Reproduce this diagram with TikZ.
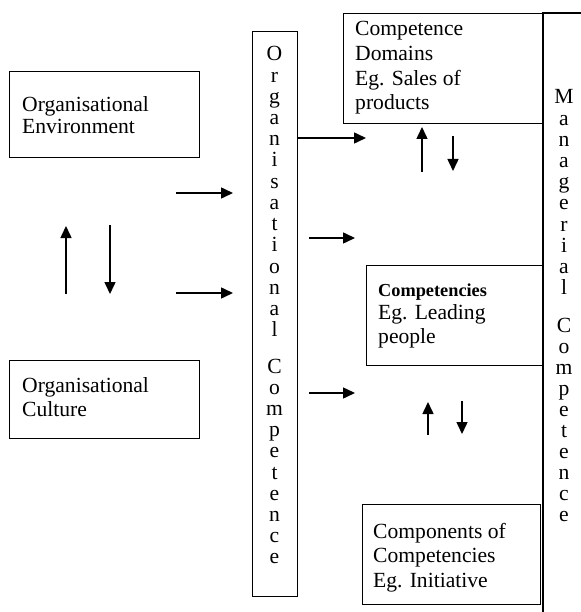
\documentclass[tikz,border=0pt]{standalone}
\usepackage{fontspec}
\setmainfont{Liberation Serif}
\usetikzlibrary{arrows.meta}
\begin{document}
\begin{tikzpicture}[x=1pt,y=-1pt,
  box/.style={draw, line width=1.4pt, inner sep=0pt, anchor=north west},
  arr/.style={line width=1.5pt, -{Triangle[length=12pt,width=11pt]}},
  txt/.style={anchor=base west, inner sep=0pt, font=\fontsize{21.6}{24}\selectfont},
  btxt/.style={anchor=base west, inner sep=0pt, font=\fontsize{18.3}{22}\selectfont\bfseries},
  ltr/.style={anchor=base, inner sep=0pt, font=\fontsize{21.6}{24}\selectfont}]
\useasboundingbox (0,0) rectangle (580,612);

% boxes
\node[box, minimum width=190pt, minimum height=86pt] (env) at (9,71) {};
\node[box, minimum width=190pt, minimum height=78pt] (cult) at (9,360) {};
\node[box, minimum width=45pt, minimum height=565pt] (orgc) at (252,31) {};
\node[box, minimum width=200pt, minimum height=110pt] (dom) at (343,13) {};
\node[box, minimum width=177pt, minimum height=100pt] (comp) at (366,265) {};
\node[box, minimum width=178pt, minimum height=100pt] (compo) at (362,504) {};

% managerial competence frame
\coordinate (mtr) at (590,13);
\coordinate (mtl) at (543,13);
\coordinate (mbl) at (543,620);
\draw[line width=1.4pt] (mtr) -- (mtl) -- (mbl);

% texts
\node[txt] (env1) at (22,112) {Organisational};
\node[txt] (env2) at (22,134) {Environment};
\node[txt] (cul1) at (22,392) {Organisational};
\node[txt] (cul2) at (22,416) {Culture};
\node[txt] (dom1) at (355,36) {Competence};
\node[txt] (dom2) at (355,61) {Domains};
\node[txt] (dom3) at (355,86) {Eg. Sales of};
\node[txt] (dom4) at (355,110) {products};
\node[btxt] (cmp1) at (378,296) {Competencies};
\node[txt] (cmp2) at (378,319) {Eg. Leading};
\node[txt] (cmp3) at (378,343) {people};
\node[txt] (cpo1) at (373,538) {Components of};
\node[txt] (cpo2) at (373,562) {Competencies};
\node[txt] (cpo3) at (373,587) {Eg. Initiative};

% vertical letters
\foreach \c [count=\i from 0] in {O,r,g,a,n,i,s,a,t,i,o,n,a,l}
  \node[ltr] (oca\i) at (274.5,{61+21.2*\i}) {\c};
\foreach \c [count=\i from 0] in {C,o,m,p,e,t,e,n,c,e}
  \node[ltr] (ocb\i) at (274.5,{373+21.2*\i}) {\c};
\foreach \c [count=\i from 0] in {M,a,n,a,g,e,r,i,a,l}
  \node[ltr] (mca\i) at (564,{104+21.2*\i}) {\c};
\foreach \c [count=\i from 0] in {C,o,m,p,e,t,e,n,c,e}
  \node[ltr] (mcb\i) at (564,{332+21*\i}) {\c};

% arrow end points
\coordinate (a1s) at (176,193); \coordinate (a1e) at (233,193);
\coordinate (a2s) at (176,293); \coordinate (a2e) at (233,293);
\coordinate (u1s) at (66,294);  \coordinate (u1e) at (66,226);
\coordinate (d1s) at (110,225); \coordinate (d1e) at (110,294);
\coordinate (r1s) at (298,138); \coordinate (r1e) at (366,138);
\coordinate (r2s) at (309,238); \coordinate (r2e) at (355,238);
\coordinate (r3s) at (309,393); \coordinate (r3e) at (355,393);
\coordinate (u2s) at (422,172); \coordinate (u2e) at (422,127);
\coordinate (d2s) at (453,136); \coordinate (d2e) at (453,171);
\coordinate (u3s) at (428,435); \coordinate (u3e) at (428,402);
\coordinate (d3s) at (462,401); \coordinate (d3e) at (462,434);

\foreach \p in {a1,a2,u1,d1,r1,r2,r3,u2,d2,u3,d3}
  \draw[arr] (\p s) -- (\p e);
\end{tikzpicture}
\end{document}
